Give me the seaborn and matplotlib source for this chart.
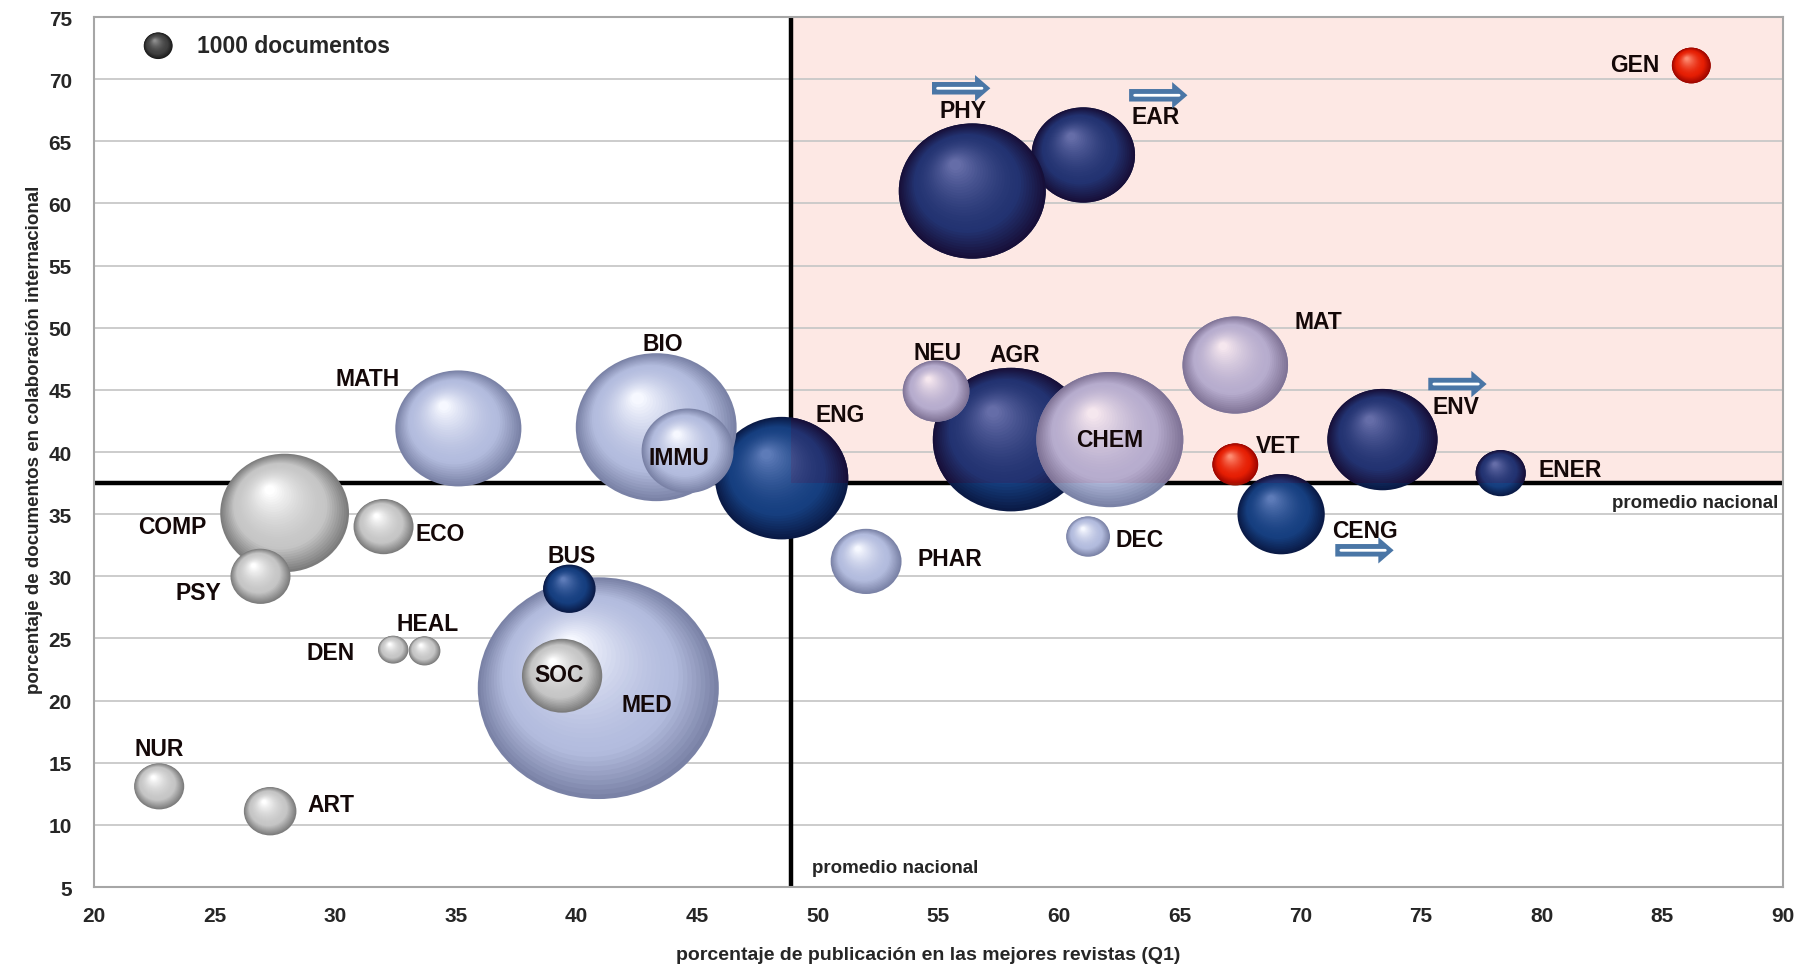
import numpy as np
import pandas as pd
import matplotlib
matplotlib.use("Agg")
import matplotlib.pyplot as plt
import matplotlib.transforms as mtransforms
from matplotlib.colors import to_rgb
from matplotlib.patches import Rectangle
from matplotlib.path import Path
import seaborn as sns

# --- datos (en orden de dibujo) ---
areas = ["MED", "SOC", "BUS", "COMP", "PSY", "ECO", "DEN", "HEAL", "NUR", "ART",
         "MATH", "ENG", "BIO", "IMMU", "PHAR", "EAR", "PHY", "AGR", "NEU", "CHEM",
         "DEC", "MAT", "CENG", "VET", "ENV", "ENER", "GEN"]
q1 = [40.9, 39.4, 39.7, 27.9, 26.9, 32.0, 32.4, 33.7, 22.7, 27.3,
      35.1, 48.5, 43.3, 44.6, 52.0, 61.0, 56.4, 58.0, 54.9, 62.1,
      61.2, 67.3, 69.2, 67.3, 73.4, 78.3, 86.2]
colab = [21.0, 22.0, 29.0, 35.1, 30.0, 34.0, 24.1, 24.0, 13.1, 11.1,
         41.9, 37.9, 42.0, 40.1, 31.2, 63.9, 61.0, 41.0, 44.9, 41.0,
         33.2, 47.0, 35.0, 39.0, 41.0, 38.3, 71.1]
documentos = [69400, 7700, 3300, 19800, 4300, 4300, 1100, 1200, 3000, 3300,
              19000, 21200, 30900, 10100, 6000, 12800, 25800, 29100, 5300, 25800,
              2300, 13300, 9100, 2500, 14500, 3000, 1800]
grupo = ["lavanda", "gris", "azul", "gris", "gris", "gris", "gris", "gris", "gris", "gris",
         "lavanda", "azul", "lavanda", "lavanda", "lavanda", "azul", "azul", "azul", "lavanda", "lavanda",
         "lavanda", "lavanda", "azul", "rojo", "azul", "azul", "rojo"]

promedio_q1 = 48.9
promedio_colab = 37.5
docs_leyenda = 1000
con_flecha = ["PHY", "EAR", "ENV", "CENG"]

# desplazamiento de cada etiqueta respecto a su burbuja (puntos)
etiqueta_off = {
    "MATH": (-65, 36), "BIO": (5, 60), "IMMU": (-6, -5), "ENG": (42, 46),
    "COMP": (-81, -10), "ECO": (41, -5), "PSY": (-45, -12), "BUS": (2, 24),
    "HEAL": (2, 20), "DEN": (-45, -2), "SOC": (-2, 1), "MED": (35, -12),
    "NUR": (0, 27), "ART": (44, 5), "PHY": (-7, 58), "EAR": (52, 28),
    "GEN": (-41, 1), "NEU": (1, 28), "AGR": (3, 61), "CHEM": (0, 0),
    "MAT": (60, 31), "VET": (31, 14), "ENV": (53, 24), "ENER": (50, 3),
    "CENG": (60, -12), "DEC": (37, -2), "PHAR": (60, 2),
}
# flecha: inicio respecto a la etiqueta (puntos)
flecha_off = {"PHY": (-22, 16), "EAR": (-19, 15), "ENV": (-20, 16), "CENG": (-21, -14)}

# colores: borde oscuro, base, brillo
paletas = {
    "gris": ("#7c7c7c", "#c6c6c6", "#ffffff"),
    "lavanda": ("#7a82a6", "#b3bcde", "#f6f8ff"),
    "azul": ("#0a1a46", "#163f80", "#5d7bb8"),
    "rojo": ("#9a1000", "#e62a10", "#ff9a80"),
    "leyenda": ("#1c1c1c", "#424242", "#8e8e8e"),
}
ROSA = "#fde8e4"

DPI = 100
S_POR_DOC = 0.434          # pt^2 de marcador por documento
SMAX = max(documentos) * S_POR_DOC
ELIPSE = 0.92
circ = Path.unit_circle()
MARCA = Path(circ.vertices * [1.0, ELIPSE], circ.codes)


def tenir(c):
    # tono rosado del cuadrante superior derecho
    r, g, b = np.array(to_rgb(c)) * 255
    nuevo = np.array([0.94 * r + 14, 0.97 * g - 10, 0.98 * b - 12])
    return tuple(np.clip(nuevo, 0, 255) / 255)


def color_capa(pal, t):
    borde, base, brillo = [np.array(to_rgb(c)) for c in pal]
    if t < 0.3:
        c = borde + (base - borde) * (t / 0.3)
    else:
        u = ((t - 0.3) / 0.7) ** 1.6
        c = base + (brillo - base) * u
    return tuple(np.clip(c, 0, 1))


def esfera(ax, x, y, docs, pal, ppx, ppy, clip=None, n=32):
    t = np.linspace(0, 1, n)
    f = 1 - 0.92 * t
    r_px = np.sqrt(docs * S_POR_DOC) / 2 * DPI / 72
    desp = (1 - f) * r_px
    capas = pd.DataFrame({
        "x": x - 0.25 * desp / ppx,
        "y": y + 0.42 * ELIPSE * desp / ppy,
        "s": docs * S_POR_DOC * f ** 2,
        "capa": [str(k) for k in range(n)],
    })
    colores = {str(k): color_capa(pal, tk) for k, tk in enumerate(t)}
    sns.scatterplot(data=capas, x="x", y="y", hue="capa", palette=colores,
                    size="s", sizes=(0, SMAX), size_norm=(0, SMAX),
                    marker=MARCA, linewidth=0, edgecolor="none",
                    legend=False, ax=ax, zorder=3)
    if clip is not None:
        ax.collections[-1].set_clip_path(clip)


def main():
    sns.set_style("white")
    plt.rcParams["font.family"] = ["Liberation Sans", "DejaVu Sans"]
    plt.rcParams["font.weight"] = "bold"

    df = pd.DataFrame({"area": areas, "q1": q1, "colab": colab,
                       "docs": documentos, "grupo": grupo})

    fig = plt.figure(figsize=(18.01, 9.70), dpi=DPI)
    ax = fig.add_axes([0.0522, 0.0845, 0.9378, 0.8969])
    ax.set_xlim(20, 90)
    ax.set_ylim(5, 75)

    # cuadrante superior derecho
    rosa = Rectangle((promedio_q1, promedio_colab), 90 - promedio_q1, 75 - promedio_colab,
                     facecolor=ROSA, edgecolor="none", zorder=0.2)
    ax.add_patch(rosa)

    ax.set_axisbelow(True)
    ax.yaxis.grid(True, color="#c8c8c8", lw=1.3)
    ax.xaxis.grid(False)
    ax.axvline(promedio_q1, color="black", lw=3.2, zorder=2.5)
    ax.axhline(promedio_colab, color="black", lw=3.2, zorder=2.5)

    x0, y0 = ax.transData.transform((0, 0))
    x1, y1 = ax.transData.transform((1, 1))
    ppx, ppy = x1 - x0, y1 - y0

    for _, fila in df.iterrows():
        pal = paletas[fila["grupo"]]
        esfera(ax, fila["q1"], fila["colab"], fila["docs"], pal, ppx, ppy)
        esfera(ax, fila["q1"], fila["colab"], fila["docs"],
               tuple(tenir(c) for c in pal), ppx, ppy, clip=rosa)

    for _, fila in df.iterrows():
        ax.annotate(fila["area"], xy=(fila["q1"], fila["colab"]),
                    xytext=etiqueta_off[fila["area"]], textcoords="offset points",
                    ha="center", va="center", fontsize=16.5, fontweight="bold",
                    color="#140808", zorder=6)

    # flechas
    for _, fila in df[df["area"].isin(con_flecha)].iterrows():
        ox, oy = etiqueta_off[fila["area"]]
        fx, fy = flecha_off[fila["area"]]
        xy = (fila["q1"], fila["colab"])
        ini = mtransforms.offset_copy(ax.transData, fig=fig, x=ox + fx, y=oy + fy, units="points")
        fin = mtransforms.offset_copy(ax.transData, fig=fig, x=ox + fx + 42, y=oy + fy, units="points")
        ax.annotate("", xy=xy, xycoords=fin, xytext=xy, textcoords=ini,
                    arrowprops=dict(arrowstyle="simple,head_length=1.1,head_width=1.9,tail_width=0.9",
                                    mutation_scale=10, fc="#4a76a6", ec="none",
                                    shrinkA=0, shrinkB=0), zorder=6)
        ini2 = mtransforms.offset_copy(ax.transData, fig=fig, x=ox + fx + 4, y=oy + fy, units="points")
        fin2 = mtransforms.offset_copy(ax.transData, fig=fig, x=ox + fx + 36, y=oy + fy, units="points")
        ax.annotate("", xy=xy, xycoords=fin2, xytext=xy, textcoords=ini2,
                    arrowprops=dict(arrowstyle="-", color="white", lw=2,
                                    shrinkA=0, shrinkB=0), zorder=7)

    # leyenda de tamaño
    lx, ly = ax.transData.inverted().transform(ax.transAxes.transform((0.038, 0.967)))
    esfera(ax, lx, ly, docs_leyenda, paletas["leyenda"], ppx, ppy)
    ax.text(0.061, 0.967, f"{docs_leyenda} documentos", transform=ax.transAxes,
            ha="left", va="center", fontsize=16.5, fontweight="bold", zorder=6)

    # textos de promedio
    ax.text(0.997, 0.4425, "promedio nacional", transform=ax.transAxes, ha="right",
            va="center", fontsize=13.5, fontweight="bold", zorder=6)
    ax.text(0.425, 0.022, "promedio nacional", transform=ax.transAxes, ha="left",
            va="center", fontsize=13.5, fontweight="bold", zorder=6)

    ax.set_xticks(range(20, 91, 5))
    ax.set_yticks(range(5, 76, 5))
    ax.tick_params(axis="both", length=0, labelsize=15)
    ax.tick_params(axis="y", pad=16)
    ax.tick_params(axis="x", pad=14)
    for lab in ax.get_xticklabels() + ax.get_yticklabels():
        lab.set_fontweight("bold")

    ax.set_xlabel("porcentaje de publicación en las mejores revistas (Q1)",
                  fontsize=14, fontweight="bold")
    ax.set_ylabel("porcentaje de documentos en colaboración internacional",
                  fontsize=13.5, fontweight="bold")
    ax.xaxis.set_label_coords(0.494, -0.068)
    ax.yaxis.set_label_coords(-0.030, 0.515)

    for sp in ax.spines.values():
        sp.set_color("#a6a6a6")
        sp.set_linewidth(1.5)
        sp.set_zorder(8)

    fig.savefig("out.png", dpi=DPI, facecolor="white")


if __name__ == "__main__":
    main()
